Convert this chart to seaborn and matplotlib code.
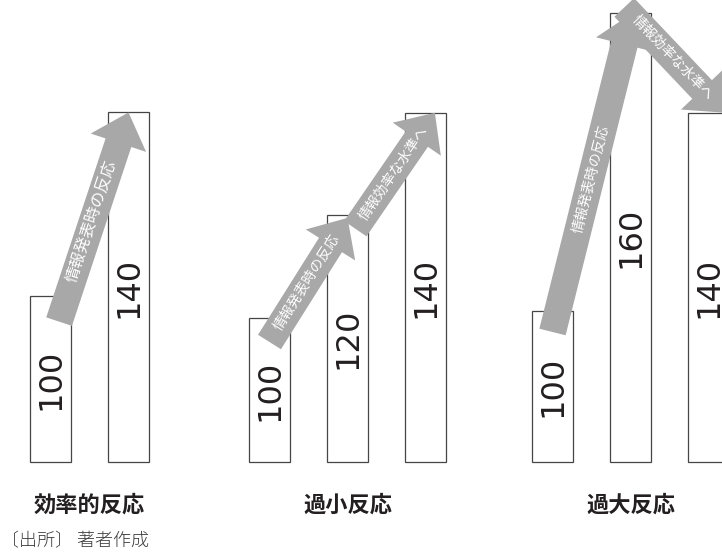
import numpy as np
import pandas as pd
import matplotlib
matplotlib.use('Agg')
import matplotlib.pyplot as plt
import seaborn as sns
from matplotlib.patches import FancyArrowPatch, ArrowStyle

sns.set_style('white')
plt.rcParams['font.family'] = ['DejaVu Sans', 'Noto Sans CJK JP']

# data
titles = ['効率的反応', '過小反応', '過大反応']
stages = [['発表前', '発表後'],
          ['発表前', '発表直後', '調整後'],
          ['発表前', '発表直後', '調整後']]
values = [[100, 140],
          [100, 120, 140],
          [100, 160, 140]]
# (from bar, to bar, text)
arrows = [[(0, 1, '情報発表時の反応')],
          [(0, 1, '情報発表時の反応'), (1, 2, '情報効率な水準へ')],
          [(0, 1, '情報発表時の反応'), (1, 2, '情報効率な水準へ')]]
source = '〔出所〕 著者作成'

# layout (pixels) / scale per panel
W, H = 722, 554
panel_px = [(11.5, 156), (230.5, 234), (513.5, 234)]
ylims = [(63.8, 164.5), (71.9, 162.0), (69.6, 162.7)]
# tail / tip offsets from bar tops (x in bar units, y in value units)
arrow_offsets = [[((0.11, -5.6), (0.0, 0.0))],
                 [((0.0, -4.7), (0.0, -0.5)), ((0.1, -2.6), (0.12, 0.0))],
                 [((0.0, -4.2), (0.02, 0.0)), ((-0.08, 1.2), (0.2, 0.0))]]
arrow_font = [11.5, 10, 10]

arrow_col = '#a8a8a8'
edge_col = '#454545'
text_col = '#231f20'
jp = ['Noto Sans CJK JP', 'DejaVu Sans']

fig = plt.figure(figsize=(W / 100, H / 100), dpi=100)
bottom_px = 462

for k in range(3):
    left, width = panel_px[k]
    ax = fig.add_axes([left / W, (H - bottom_px) / H, width / W, bottom_px / H])
    df = pd.DataFrame({'stage': stages[k], 'value': values[k]})
    sns.barplot(data=df, x='stage', y='value', order=stages[k], ax=ax,
                color='white', edgecolor=edge_col, linewidth=0.9, width=0.53,
                saturation=1)
    lo, hi = ylims[k]
    ax.set_ylim(lo, hi)
    ax.set_xlim(-0.5, len(values[k]) - 0.5)
    for p in ax.patches:
        h = p.get_height()
        p.set_y(lo)
        p.set_height(h - lo)
        p.set_clip_on(False)
    ax.set_axis_off()

    for i, v in enumerate(values[k]):
        ax.text(i, (lo + v) / 2, str(v), rotation=90, ha='center', va='center',
                fontsize=23, color=text_col, family='DejaVu Sans', zorder=2)

    for (a, b, txt), ((tx, ty), (hx, hy)) in zip(arrows[k], arrow_offsets[k]):
        tail = (a + tx, values[k][a] + ty)
        tip = (b + hx, values[k][b] + hy)
        style = ArrowStyle.Simple(head_length=23, head_width=42, tail_width=19.5)
        arr = FancyArrowPatch(tail, tip, arrowstyle=style, mutation_scale=1,
                              fc=arrow_col, ec='none', shrinkA=0, shrinkB=0,
                              clip_on=False, zorder=3)
        ax.add_patch(arr)
        p0 = ax.transData.transform(tail)
        p1 = ax.transData.transform(tip)
        ang = np.degrees(np.arctan2(p1[1] - p0[1], p1[0] - p0[0]))
        mid = ax.transData.inverted().transform(p0 + 0.48 * (p1 - p0))
        ax.text(mid[0], mid[1], txt, rotation=ang, rotation_mode='anchor',
                ha='center', va='center', fontsize=arrow_font[k], color='white',
                family=jp, zorder=4, clip_on=False)

    ax.text(0.5, -0.093, titles[k], transform=ax.transAxes, ha='center',
            va='center', fontsize=16, fontweight='bold', color=text_col, family=jp)

fig.text(0.001, (H - 541) / H, source, ha='left', va='center', fontsize=13,
         fontweight='light', color='#3a3a3a', family=jp)

fig.savefig('out.png', dpi=100, facecolor='white')
